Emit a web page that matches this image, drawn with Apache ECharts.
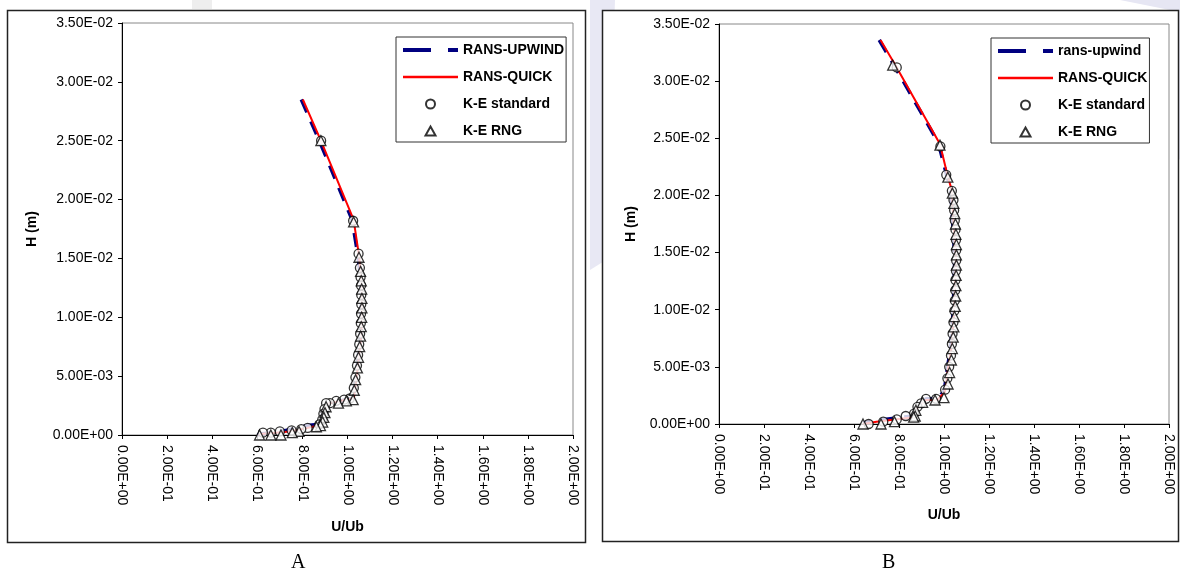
<!DOCTYPE html>
<html>
<head>
<meta charset="utf-8">
<title>U/Ub profiles</title>
<script src="https://cdn.jsdelivr.net/npm/echarts@6/dist/echarts.min.js"></script>
</head>
<body style="margin:0;background:#fff">
<div id="container" style="width:1180px;height:575px;"></div>
<script type="text/javascript">
// panel A data: [U/Ub, H (m)]
var upwindA = [[0.795,0.0285],[0.875,0.0250],[1.020,0.0183],[1.044,0.0155],[1.054,0.0140],[1.060,0.0125],[1.061,0.0110],[1.060,0.0095],[1.056,0.0080],[1.048,0.0068],[1.038,0.0050],[1.030,0.0040],[1.024,0.0031],[0.990,0.0030],[0.950,0.0028],[0.912,0.0027],[0.896,0.0021],[0.880,0.0013],[0.868,0.0009],[0.820,0.0008],[0.780,0.0006],[0.730,0.0004],[0.670,0.0002],[0.620,0.0001],[0.600,0]];
var quickA = [[0.802,0.0285],[0.882,0.0250],[1.027,0.0183],[1.049,0.0155],[1.058,0.0140],[1.063,0.0125],[1.064,0.0110],[1.063,0.0095],[1.059,0.0080],[1.051,0.0068],[1.041,0.0050],[1.034,0.0040],[1.028,0.0031],[0.990,0.0030],[0.950,0.0028],[0.915,0.0027],[0.900,0.0021],[0.886,0.0013],[0.873,0.0008],[0.820,0.0006],[0.775,0.0004],[0.730,0.00028],[0.670,0.00018],[0.625,0.0001],[0.605,0]];
var keStdA = [[0.883,0.0250],[1.025,0.0182],[1.049,0.0154],[1.055,0.0142],[1.058,0.0134],[1.060,0.0127],[1.061,0.0119],[1.061,0.0111],[1.060,0.0103],[1.059,0.0095],[1.056,0.0086],[1.052,0.0077],[1.047,0.0068],[1.042,0.0059],[1.035,0.0049],[1.028,0.0040],[1.010,0.0031],[0.985,0.0030],[0.950,0.0029],[0.922,0.0027],[0.905,0.0027],[0.898,0.0022],[0.893,0.0018],[0.888,0.0013],[0.875,0.0009],[0.823,0.0006],[0.795,0.0005],[0.752,0.0004],[0.700,0.0003],[0.660,0.0002],[0.625,0.0002]];
var keRngA = [[0.882,0.0250],[1.027,0.0181],[1.051,0.0151],[1.058,0.0139],[1.061,0.0131],[1.063,0.0124],[1.064,0.0116],[1.064,0.0108],[1.063,0.0100],[1.061,0.0092],[1.058,0.0084],[1.054,0.0075],[1.049,0.0066],[1.044,0.0057],[1.036,0.0047],[1.030,0.0038],[1.025,0.0030],[0.995,0.0029],[0.960,0.0027],[0.905,0.0024],[0.900,0.0019],[0.895,0.0015],[0.890,0.0011],[0.880,0.0008],[0.862,0.0007],[0.785,0.0003],[0.755,0.0002],[0.705,0],[0.660,0],[0.610,0]];

// panel B data
var upwindB = [[0.712,0.0336],[0.778,0.0314],[0.975,0.0246],[1.010,0.0219],[1.030,0.0205],[1.048,0.0145],[1.041,0.0100],[1.030,0.0068],[1.016,0.0050],[1.001,0.0029],[0.970,0.0022],[0.920,0.0022],[0.890,0.0017],[0.873,0.0014],[0.862,0.0007],[0.780,0.0005],[0.700,0.0003],[0.640,0.0001]];
var quickB = [[0.718,0.0336],[0.784,0.0314],[0.982,0.0245],[1.015,0.0218],[1.034,0.0205],[1.053,0.0145],[1.045,0.0100],[1.034,0.0068],[1.019,0.0050],[1.004,0.0028],[0.970,0.0021],[0.920,0.0021],[0.893,0.0016],[0.876,0.0013],[0.864,0.0006],[0.780,0.0004],[0.700,0.0002],[0.640,0]];
var keStdB = [[0.790,0.0312],[0.984,0.0243],[1.010,0.0218],[1.035,0.0204],[1.042,0.0196],[1.045,0.0187],[1.048,0.0178],[1.051,0.0170],[1.053,0.0161],[1.054,0.0152],[1.054,0.0143],[1.053,0.0134],[1.051,0.0126],[1.050,0.0117],[1.048,0.0108],[1.046,0.0099],[1.042,0.0089],[1.038,0.0079],[1.035,0.0070],[1.031,0.0060],[1.023,0.0050],[1.015,0.0040],[1.005,0.0030],[0.965,0.0022],[0.920,0.0022],[0.898,0.0018],[0.882,0.0015],[0.867,0.0009],[0.830,0.0007],[0.790,0.0004],[0.730,0.0002],[0.665,0]];
var keRngB = [[0.772,0.0314],[0.982,0.0244],[1.017,0.0216],[1.037,0.0202],[1.044,0.0193],[1.048,0.0184],[1.051,0.0175],[1.053,0.0166],[1.055,0.0157],[1.055,0.0148],[1.055,0.0139],[1.054,0.0130],[1.053,0.0121],[1.052,0.0112],[1.050,0.0103],[1.047,0.0094],[1.044,0.0085],[1.041,0.0076],[1.037,0.0066],[1.033,0.0056],[1.025,0.0045],[1.018,0.0035],[1.000,0.0023],[0.960,0.0021],[0.905,0.0019],[0.875,0.0012],[0.872,0.0007],[0.865,0.0006],[0.780,0.0002],[0.720,0],[0.640,0]];

var namesA = ['RANS-UPWIND', 'RANS-QUICK', 'K-E standard', 'K-E RNG'];
var namesB = ['rans-upwind', 'RANS-QUICK', 'K-E standard', 'K-E RNG'];
var panelLabels = ['A', 'B'];

// Excel style 2.00E-01
function sci(v) {
    var s = Number(v).toExponential(2).toUpperCase();
    var p = s.split('E');
    var e = parseInt(p[1], 10);
    var sign = e < 0 ? '-' : '+';
    e = Math.abs(e);
    return p[0] + 'E' + sign + (e < 10 ? '0' + e : e);
}

var font = 'Liberation Sans, Arial, sans-serif';
var triIcon = 'path://M5,0L10,9L0,9Z';

function xAx(i) {
    return {
        type: 'value', gridIndex: i, min: 0, max: 2, interval: 0.2,
        name: 'U/Ub', nameLocation: 'middle', nameGap: i == 0 ? 85 : 84,
        nameTextStyle: { fontFamily: font, fontWeight: 'bold', fontSize: 14, color: '#000' },
        axisLine: { lineStyle: { color: '#000', width: 1 } },
        axisTick: { length: 4, lineStyle: { color: '#000' } },
        axisLabel: { rotate: -90, margin: 10, formatter: sci, fontFamily: font, fontSize: 14, color: '#000' },
        splitLine: { show: false }
    };
}
function yAx(i) {
    return {
        type: 'value', gridIndex: i, min: 0, max: 0.035, interval: 0.005,
        name: 'H (m)', nameLocation: 'middle', nameGap: i == 0 ? 83 : 81,
        nameTextStyle: { fontFamily: font, fontWeight: 'bold', fontSize: 14, color: '#000' },
        axisLine: { show: true, lineStyle: { color: '#000', width: 1 } },
        axisTick: { show: true, length: 4, lineStyle: { color: '#000' } },
        axisLabel: { margin: 9, formatter: sci, fontFamily: font, fontSize: 14, color: '#000' },
        splitLine: { show: false }
    };
}
function lineSeries(name, data, i, dashed) {
    return {
        name: name, type: 'line', xAxisIndex: i, yAxisIndex: i, data: data,
        symbol: 'none', smooth: false, z: dashed ? 2 : 3,
        lineStyle: dashed ? { color: '#000080', width: 3.5, type: [14, 10] } : { color: '#ff0000', width: 2 },
        itemStyle: { color: dashed ? '#000080' : '#ff0000' }
    };
}
function markSeries(name, data, i, sym) {
    return {
        name: name, type: 'scatter', xAxisIndex: i, yAxisIndex: i, data: data,
        symbol: sym, symbolSize: sym == 'circle' ? 9 : 10, z: sym == 'circle' ? 4 : 5,
        itemStyle: { color: '#fff', borderColor: '#000', borderWidth: 1.3 }
    };
}
function legendFor(names, left, top) {
    return {
        data: [
            { name: names[0], itemStyle: { opacity: 0 }, lineStyle: { color: '#000080', width: 4, type: [28, 17] } },
            { name: names[1], itemStyle: { opacity: 0 }, lineStyle: { color: '#ff0000', width: 2.5 } },
            { name: names[2] },
            { name: names[3], icon: triIcon }
        ],
        orient: 'vertical', left: left, top: top,
        itemWidth: 55, itemHeight: 9, itemGap: 13,
        symbolKeepAspect: true,
        padding: [6, 2, 4, 5],
        borderColor: '#333', borderWidth: 1, backgroundColor: '#fff',
        textStyle: { fontFamily: font, fontWeight: 'bold', fontSize: 14, color: '#000' },
        selectedMode: false
    };
}

var option = {
    animation: false,
    backgroundColor: '#fff',
    graphic: [
        // faint watermark blobs
        { type: 'rect', shape: { x: 192, y: 0, width: 20, height: 9 }, style: { fill: '#eeeeee' }, z: -10 },
        { type: 'polygon', shape: { points: [[590, 0], [615, 0], [606, 260], [590, 270]] }, style: { fill: '#e8e8f4' }, z: -10 },
        { type: 'polygon', shape: { points: [[1120, 0], [1180, 0], [1180, 160], [1172, 150], [1170, 10]] }, style: { fill: '#e6e6f3' }, z: -10 },
        // panel frames
        { type: 'rect', shape: { x: 7.5, y: 10.5, width: 578, height: 532 }, style: { fill: 'none', stroke: '#222', lineWidth: 1.5 }, z: -5 },
        { type: 'rect', shape: { x: 602.5, y: 10.5, width: 576, height: 531 }, style: { fill: '#fff', stroke: '#222', lineWidth: 1.5 }, z: -5 },
        { type: 'rect', shape: { x: 8.5, y: 11.5, width: 576, height: 530 }, style: { fill: '#fff' }, z: -6 },
        { type: 'text', left: 291, top: 553, style: { text: panelLabels[0], font: '20px "Liberation Serif", "Times New Roman", serif', fill: '#000' } },
        { type: 'text', left: 882, top: 553, style: { text: panelLabels[1], font: '20px "Liberation Serif", "Times New Roman", serif', fill: '#000' } }
    ],
    grid: [
        { left: 122, top: 23, width: 451, height: 412, show: true, borderColor: '#888', borderWidth: 1, backgroundColor: 'transparent' },
        { left: 719, top: 24, width: 450, height: 400, show: true, borderColor: '#888', borderWidth: 1, backgroundColor: 'transparent' }
    ],
    legend: [legendFor(namesA, 396, 37), legendFor(namesB, 991, 38)],
    xAxis: [xAx(0), xAx(1)],
    yAxis: [yAx(0), yAx(1)],
    series: [
        lineSeries(namesA[0], upwindA, 0, true),
        lineSeries(namesA[1], quickA, 0, false),
        markSeries(namesA[2], keStdA, 0, 'circle'),
        markSeries(namesA[3], keRngA, 0, 'triangle'),
        lineSeries(namesB[0], upwindB, 1, true),
        lineSeries(namesB[1], quickB, 1, false),
        markSeries(namesB[2], keStdB, 1, 'circle'),
        markSeries(namesB[3], keRngB, 1, 'triangle')
    ]
};

var myChart = echarts.init(document.getElementById('container'));
myChart.setOption(option);
</script>
</body>
</html>
